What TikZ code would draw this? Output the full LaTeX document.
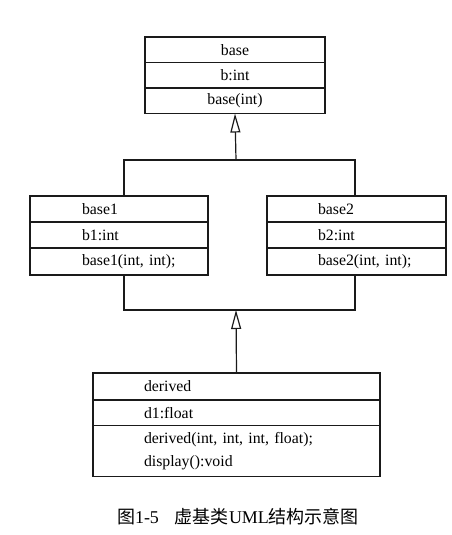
\documentclass[tikz,border=0pt]{standalone}
\usepackage{fontspec}
\setmainfont{Liberation Serif}
\newfontfamily\cjk{Noto Sans CJK SC}
\usepackage{tikz}
\usetikzlibrary{arrows.meta,positioning}
\definecolor{umlline}{HTML}{1A1A1A}

\tikzset{
  classrow/.style={draw=umlline, line width=1.2pt, outer sep=0pt, inner xsep=0pt, inner ysep=0pt,
    text width=#1, minimum height=25.5pt, align=left, font=\fontsize{15.8}{23}\selectfont},
  inherit/.style={draw=umlline, line width=1.2pt, -{Triangle[open, length=19pt, width=10pt]}},
}

\begin{document}
\begin{tikzpicture}[x=1pt, y=-1pt]
    \useasboundingbox (0,0) rectangle (452,535);

    % Top class
    \node[classrow=180pt, anchor=north west, align=center] (base-name) at (145,37) {base};
    \node[classrow=180pt, align=center, below=0pt of base-name] (base-attr) {b:int};
    \node[classrow=180pt, align=center, below=0pt of base-attr] (base-op) {base(int)};

    % Middle classes
    \node[classrow=178pt, anchor=north west, minimum height=26pt] (b1-name) at (30,196) {\hspace*{52pt}base1};
    \node[classrow=178pt, minimum height=26pt, below=0pt of b1-name] (b1-attr) {\hspace*{52pt}b1:int};
    \node[classrow=178pt, minimum height=27pt, below=0pt of b1-attr] (b1-op) {\hspace*{52pt}base1(int, int);};

    \node[classrow=179pt, anchor=north west, minimum height=26pt] (b2-name) at (267,196) {\hspace*{51pt}base2};
    \node[classrow=179pt, minimum height=26pt, below=0pt of b2-name] (b2-attr) {\hspace*{51pt}b2:int};
    \node[classrow=179pt, minimum height=27pt, below=0pt of b2-attr] (b2-op) {\hspace*{51pt}base2(int, int);};

    % Bottom class
    \node[classrow=287pt, anchor=north west, minimum height=27pt] (d-name) at (93,373) {\hspace*{51pt}derived};
    \node[classrow=287pt, below=0pt of d-name] (d-attr) {\hspace*{51pt}d1:float};
    \node[classrow=287pt, minimum height=51pt, below=0pt of d-attr] (d-op)
        {\hspace*{51pt}derived(int, int, int, float);\\\hspace*{51pt}display():void};

    % Inheritance joints
    \coordinate (join-top) at (236,160);
    \coordinate (join-bot) at (236,310);

    \draw[draw=umlline, line width=1.2pt] ([xshift=5pt]b1-name.north) |- (join-top) -| ([xshift=-1.5pt]b2-name.north);
    \draw[inherit] (join-top) -- (base-op.south);
    \draw[draw=umlline, line width=1.2pt] ([xshift=5pt]b1-op.south) |- (join-bot) -| ([xshift=-1.5pt]b2-op.south);
    \draw[inherit] (d-name.north) -- (join-bot);

    % Caption
    \node[font=\fontsize{18}{20}\selectfont] (caption) at (238,517)
        {{\cjk 图}1-5\hspace{16pt}{\cjk 虚基类}UML{\cjk 结构示意图}};
\end{tikzpicture}
\end{document}
